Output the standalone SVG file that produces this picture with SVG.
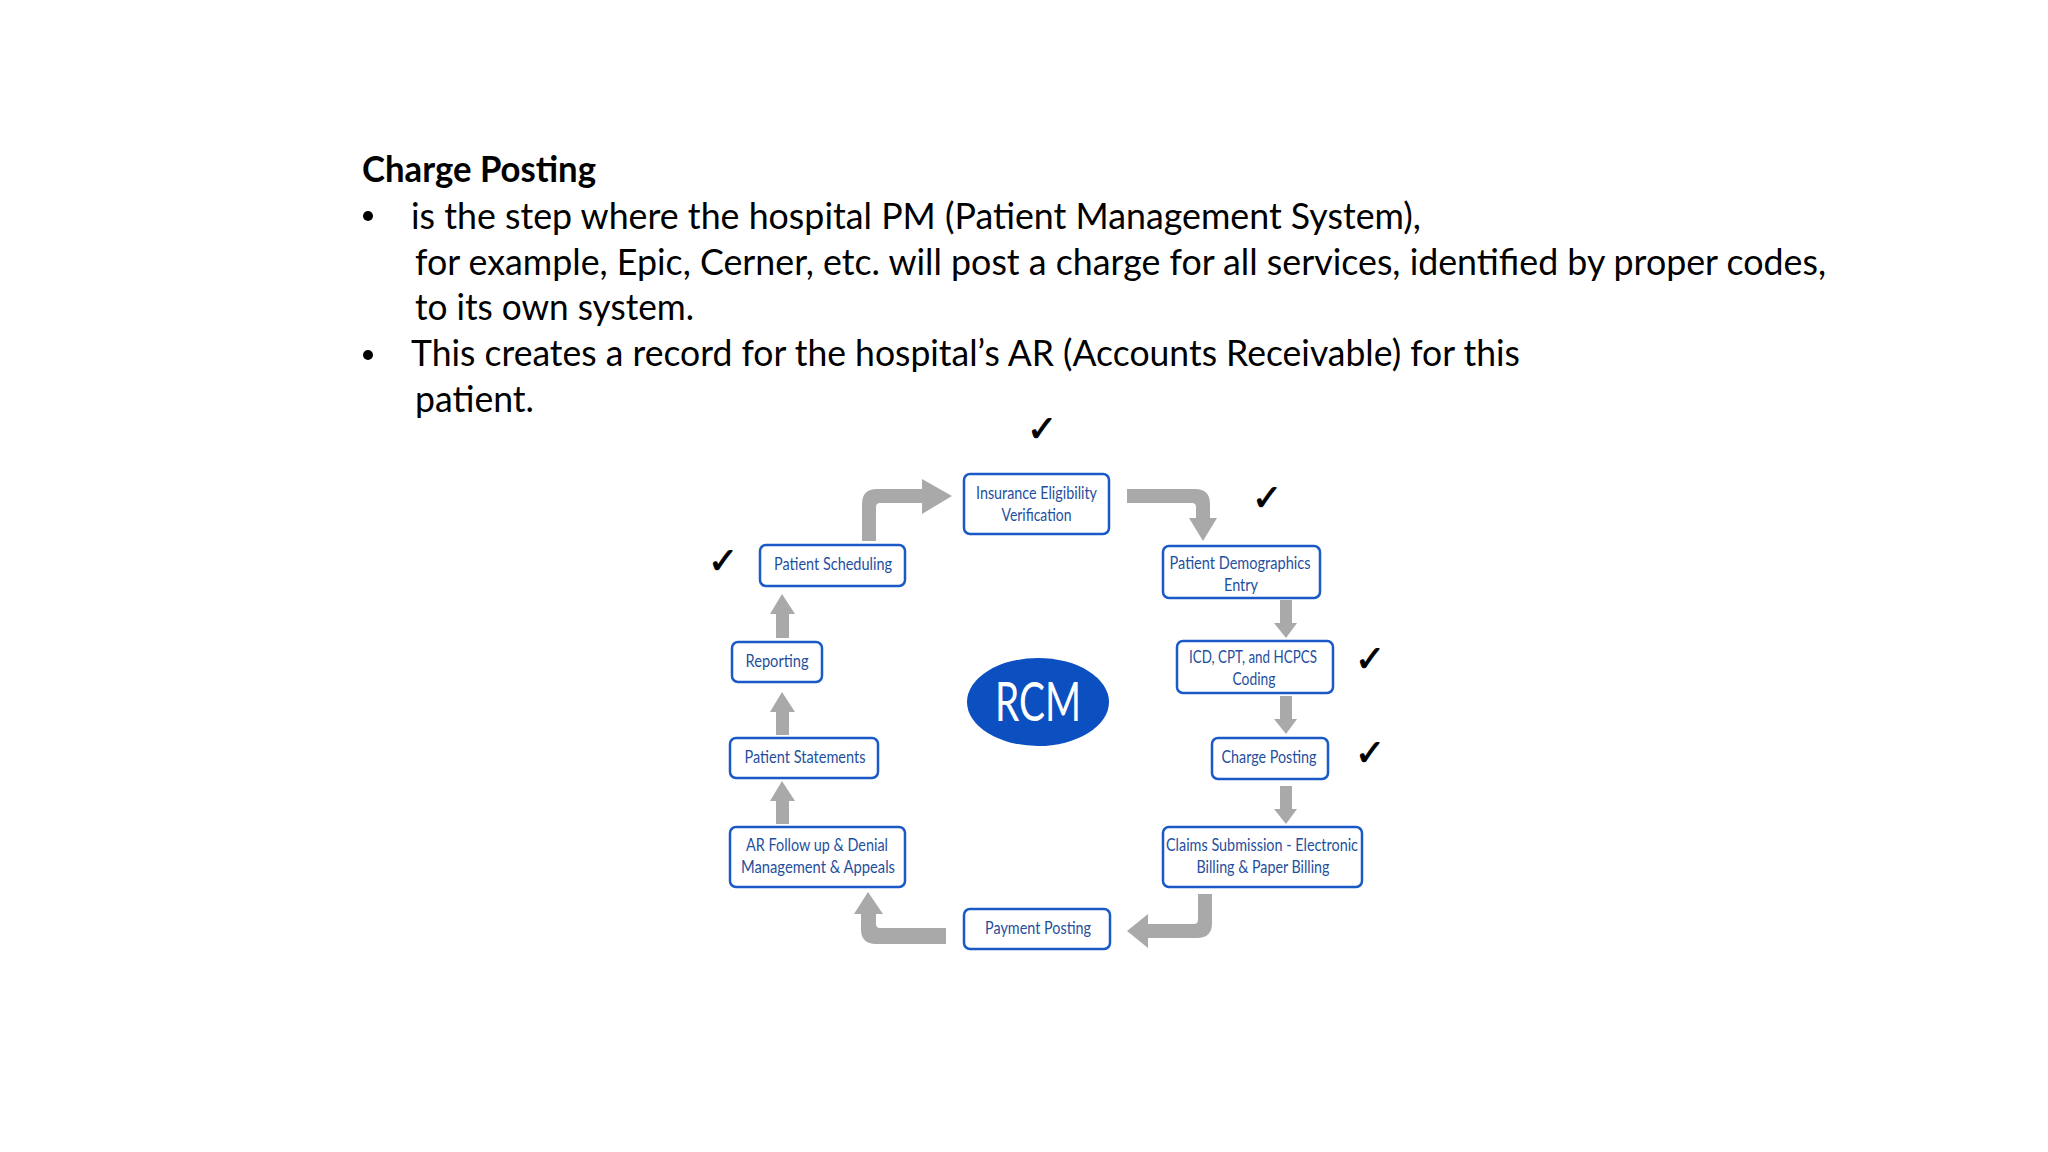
<svg xmlns="http://www.w3.org/2000/svg" width="2048" height="1152" viewBox="0 0 2048 1152">
<style>
.body{font-family:Lato,"Open Sans","Liberation Sans",sans-serif;font-size:36px;fill:#000}
.title{font-family:Lato,"Open Sans","Liberation Sans",sans-serif;font-size:36px;font-weight:bold;fill:#000}
.box{fill:#fff;stroke:#1a5ac6;stroke-width:2.5}
.lbl{font-family:Lato,"Open Sans","Liberation Sans",sans-serif;font-size:17px;fill:#1f4f9e;text-anchor:middle}
.arr{fill:#a9a9a9}
.chk{font-family:"DejaVu Sans",sans-serif;font-size:36px;fill:#000;stroke:#000;stroke-width:1;text-anchor:middle}
</style>
<rect width="2048" height="1152" fill="#fff"/>
<g id="text">
<text class="title" x="362" y="182" textLength="234" lengthAdjust="spacingAndGlyphs">Charge Posting</text>
<circle cx="368" cy="216" r="5" fill="#000"/>
<text class="body" x="411" y="229" textLength="1010" lengthAdjust="spacingAndGlyphs">is the step where the hospital PM (Patient Management System),</text>
<text class="body" x="415" y="275" textLength="1411" lengthAdjust="spacingAndGlyphs">for example, Epic, Cerner, etc. will post a charge for all services, identified by proper codes,</text>
<text class="body" x="415" y="320" textLength="279" lengthAdjust="spacingAndGlyphs">to its own system.</text>
<circle cx="368" cy="355" r="5" fill="#000"/>
<text class="body" x="411" y="366" textLength="1109" lengthAdjust="spacingAndGlyphs">This creates a record for the hospital’s AR (Accounts Receivable) for this</text>
<text class="body" x="415" y="412" textLength="119" lengthAdjust="spacingAndGlyphs">patient.</text>
</g>
<g id="connectors">
<path class="arr" d="M862 541 L862 504 Q862 489 877 489 L922 489 L922 479 L952 496 L922 514 L922 503 L880 503 Q876 503 876 507 L876 541 Z"/>
<path class="arr" d="M1127 489 L1195 489 Q1210 489 1210 504 L1210 518 L1217 518 L1203 541 L1189 518 L1196 518 L1196 507 Q1196 503 1192 503 L1127 503 Z"/>
<path class="arr" d="M1280 600 L1292 600 L1292 623 L1297 623 L1286 638 L1274 623 L1280 623 Z"/>
<path class="arr" d="M1280 696 L1292 696 L1292 719 L1297 719 L1286 734 L1274 719 L1280 719 Z"/>
<path class="arr" d="M1280 786 L1292 786 L1292 809 L1297 809 L1286 824 L1274 809 L1280 809 Z"/>
<path class="arr" d="M1198 894 L1212 894 L1212 923 Q1212 938 1197 938 L1148 938 L1148 948 L1127 931 L1148 914 L1148 924 L1194 924 Q1198 924 1198 920 Z"/>
<path class="arr" d="M946 928 L946 944 L876 944 Q861 944 861 929 L861 914 L854 914 L868 892 L883 914 L876 914 L876 924 Q876 928 880 928 Z"/>
<path class="arr" d="M776 824 L789 824 L789 801 L795 801 L782 781 L770 801 L776 801 Z"/>
<path class="arr" d="M776 735 L789 735 L789 712 L795 712 L782 692 L770 712 L776 712 Z"/>
<path class="arr" d="M776 638 L789 638 L789 614 L795 614 L782 594 L770 614 L776 614 Z"/>
</g>
<g id="rcm">
<ellipse cx="1038" cy="702" rx="71" ry="44" fill="#0b4fc1"/>
<text x="1038" y="721" font-family="Lato,'Open Sans','Liberation Sans',sans-serif" font-size="54" fill="#fff" text-anchor="middle" textLength="86" lengthAdjust="spacingAndGlyphs">RCM</text>
</g>
<g id="n-insurance">
<rect class="box" x="964" y="474" width="145" height="60" rx="6"/>
<text class="lbl" x="1036.5" y="499" textLength="121" lengthAdjust="spacingAndGlyphs">Insurance Eligibility</text>
<text class="lbl" x="1036.5" y="521" textLength="70" lengthAdjust="spacingAndGlyphs">Verification</text>
</g>
<g id="n-demographics">
<rect class="box" x="1163" y="546" width="157" height="52" rx="6"/>
<text class="lbl" x="1240" y="569" textLength="141" lengthAdjust="spacingAndGlyphs">Patient Demographics</text>
<text class="lbl" x="1241" y="591" textLength="34" lengthAdjust="spacingAndGlyphs">Entry</text>
</g>
<g id="n-coding">
<rect class="box" x="1177" y="641" width="156" height="52" rx="6"/>
<text class="lbl" x="1253" y="663" textLength="128" lengthAdjust="spacingAndGlyphs">ICD, CPT, and HCPCS</text>
<text class="lbl" x="1254" y="685" textLength="43" lengthAdjust="spacingAndGlyphs">Coding</text>
</g>
<g id="n-charge">
<rect class="box" x="1212" y="738" width="116" height="41" rx="6"/>
<text class="lbl" x="1269" y="763" textLength="95" lengthAdjust="spacingAndGlyphs">Charge Posting</text>
</g>
<g id="n-claims">
<rect class="box" x="1163" y="827" width="199" height="60" rx="6"/>
<text class="lbl" x="1262" y="851" textLength="192" lengthAdjust="spacingAndGlyphs">Claims Submission - Electronic</text>
<text class="lbl" x="1263" y="873" textLength="133" lengthAdjust="spacingAndGlyphs">Billing &amp; Paper Billing</text>
</g>
<g id="n-payment">
<rect class="box" x="964" y="909" width="146" height="40" rx="6"/>
<text class="lbl" x="1038" y="934" textLength="106" lengthAdjust="spacingAndGlyphs">Payment Posting</text>
</g>
<g id="n-ar">
<rect class="box" x="730" y="827" width="175" height="60" rx="6"/>
<text class="lbl" x="817" y="851" textLength="142" lengthAdjust="spacingAndGlyphs">AR Follow up &amp; Denial</text>
<text class="lbl" x="818" y="873" textLength="154" lengthAdjust="spacingAndGlyphs">Management &amp; Appeals</text>
</g>
<g id="n-statements">
<rect class="box" x="730" y="738" width="148" height="40" rx="6"/>
<text class="lbl" x="805" y="763" textLength="121" lengthAdjust="spacingAndGlyphs">Patient Statements</text>
</g>
<g id="n-reporting">
<rect class="box" x="732" y="642" width="90" height="40" rx="6"/>
<text class="lbl" x="777" y="667" textLength="63" lengthAdjust="spacingAndGlyphs">Reporting</text>
</g>
<g id="n-scheduling">
<rect class="box" x="760" y="545" width="145" height="41" rx="6"/>
<text class="lbl" x="833" y="570" textLength="118" lengthAdjust="spacingAndGlyphs">Patient Scheduling</text>
</g>
<g id="checks">
<text class="chk" x="1042" y="441">✓</text>
<text class="chk" x="1267" y="510">✓</text>
<text class="chk" x="723" y="573">✓</text>
<text class="chk" x="1370" y="671">✓</text>
<text class="chk" x="1370" y="765">✓</text>
</g>
</svg>
